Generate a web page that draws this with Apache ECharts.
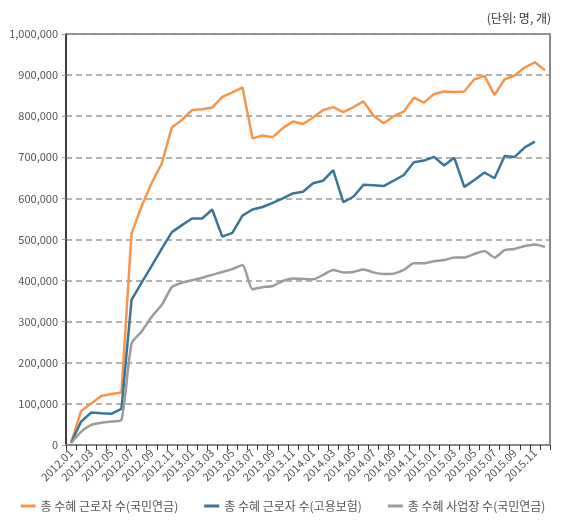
<!DOCTYPE html>
<html>
<head>
    <meta charset="utf-8">
    <title>총 수혜 근로자 수 / 사업장 수</title>
    <script src="https://cdn.jsdelivr.net/npm/echarts@6/dist/echarts.min.js"></script>
</head>
<style>
    body { margin: 0; background: #fff; }
</style>
<body>
    <div id="main" style="width: 566px;height:521px;"></div>
    <script type="text/javascript">
        // 월별 카테고리 (2012.01 ~ 2015.12)
        var months = [];
        for (var y = 2012; y <= 2015; y++) {
            for (var m = 1; m <= 12; m++) {
                months.push(y + '.' + (m < 10 ? '0' + m : m));
            }
        }

        var seriesNames = ['총 수혜 근로자 수(국민연금)', '총 수혜 근로자 수(고용보험)', '총 수혜 사업장 수(국민연금)'];

        // 총 수혜 근로자 수(국민연금)
        var pensionWorkers = [
            5000, 83000, 101000, 119000, 124000, 128000, 515000, 581000, 638000, 685000, 773000, 791000,
            815000, 817000, 821000, 847000, 858000, 870000, 746000, 753000, 749000, 771000, 787000, 781000,
            797000, 815000, 822000, 810000, 822000, 836000, 801000, 783000, 800000, 811000, 845000, 833000,
            854000, 860000, 859000, 860000, 890000, 898000, 852000, 890000, 899000, 919000, 931000, 912000
        ];
        // 총 수혜 근로자 수(고용보험)
        var insuranceWorkers = [
            5000, 57000, 79000, 77000, 76000, 88000, 353000, 395000, 436000, 478000, 518000, 535000,
            551000, 551000, 573000, 507000, 516000, 558000, 573000, 579000, 589000, 600000, 612000, 616000,
            637000, 643000, 669000, 591000, 604000, 633000, 632000, 630000, 643000, 657000, 688000, 692000,
            701000, 680000, 699000, 628000, 645000, 663000, 649000, 703000, 701000, 724000, 738000, null
        ];
        // 총 수혜 사업장 수(국민연금)
        var pensionFirms = [
            5000, 32000, 49000, 54000, 57000, 61000, 247000, 276000, 312000, 341000, 384000, 395000,
            401000, 407000, 414000, 421000, 428000, 438000, 379000, 384000, 387000, 399000, 405000, 404000,
            403000, 414000, 426000, 420000, 421000, 427000, 420000, 416000, 417000, 426000, 442000, 442000,
            447000, 450000, 456000, 456000, 465000, 472000, 456000, 474000, 477000, 484000, 488000, 482000
        ];

        var myChart = echarts.init(document.getElementById('main'));

        var font = '"Noto Sans CJK KR", "Noto Sans", sans-serif';

        var option = {
            animation: false,
            textStyle: { fontFamily: font },
            title: {
                text: '(단위: 명, 개)',
                right: 10,
                top: 7,
                textStyle: { fontSize: 12, fontWeight: 'normal', color: '#333', fontFamily: font }
            },
            legend: {
                bottom: 4,
                left: 'center',
                itemGap: 26,
                itemWidth: 15,
                itemHeight: 3,
                icon: 'rect',
                textStyle: { fontSize: 12, color: '#555', fontFamily: font },
                data: seriesNames
            },
            color: ['#F7964A', '#3A7596', '#9B9B9B'],
            grid: {
                left: 66,
                right: 16,
                top: 34,
                bottom: 76,
                show: true,
                borderColor: '#222',
                borderWidth: 1
            },
            xAxis: {
                type: 'category',
                data: months,
                boundaryGap: true,
                axisLine: { lineStyle: { color: '#888', width: 2 } },
                axisTick: { show: true, interval: 0, length: 5, lineStyle: { color: '#333' } },
                axisLabel: {
                    interval: 1,
                    rotate: 45,
                    fontSize: 11,
                    color: '#555',
                    margin: 6
                }
            },
            yAxis: [{
                type: 'value',
                min: 0,
                max: 1000000,
                interval: 100000,
                axisLine: { show: true, lineStyle: { color: '#222', width: 1.5 } },
                axisTick: { show: true, length: 4, lineStyle: { color: '#999' } },
                axisLabel: {
                    fontSize: 11,
                    color: '#555',
                    margin: 8,
                    formatter: function (v) { return v.toLocaleString('en-US'); }
                },
                splitLine: { lineStyle: { color: '#9a9a9a', type: [6, 4], width: 1.5 } }
            }, {
                type: 'value',
                position: 'right',
                min: 0,
                max: 1000000,
                interval: 100000,
                axisLine: { show: true, lineStyle: { color: '#888', width: 2 } },
                axisTick: { show: false },
                axisLabel: { show: false },
                splitLine: { show: false }
            }],
            series: [{
                name: seriesNames[0],
                type: 'line',
                data: pensionWorkers,
                symbol: 'none',
                lineStyle: { width: 2.5 }
            }, {
                name: seriesNames[1],
                type: 'line',
                data: insuranceWorkers,
                symbol: 'none',
                lineStyle: { width: 2.5 }
            }, {
                name: seriesNames[2],
                type: 'line',
                data: pensionFirms,
                symbol: 'none',
                smooth: 0.2,
                lineStyle: { width: 2.5 }
            }]
        };

        myChart.setOption(option);
    </script>
</body>
</html>
